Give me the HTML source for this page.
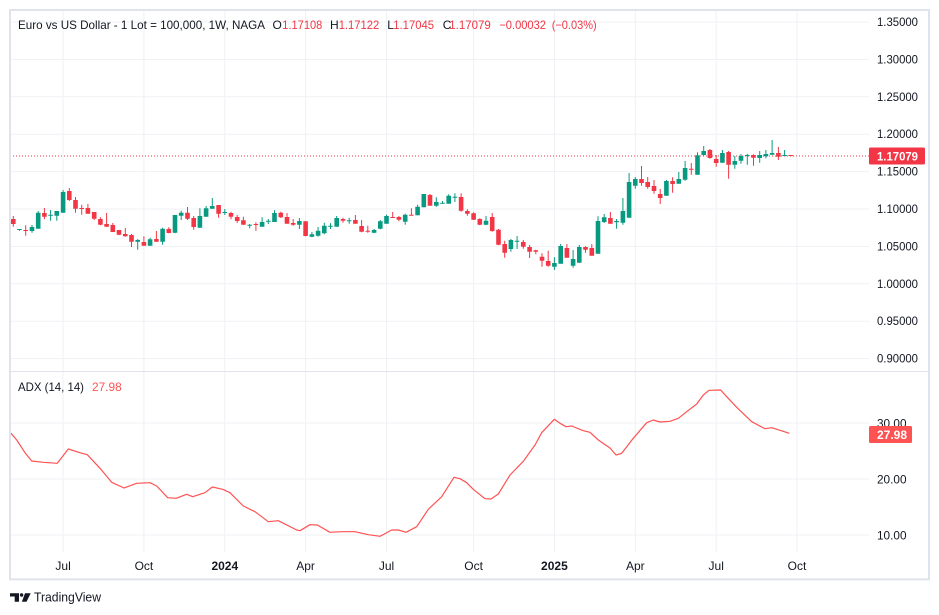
<!DOCTYPE html>
<html>
<head>
<meta charset="utf-8">
<style>
html,body{margin:0;padding:0;background:#fff;}
svg{display:block;}
text{font-family:"Liberation Sans",Arial,sans-serif;}
</style>
</head>
<body>
<svg width="939" height="615" viewBox="0 0 939 615" xmlns="http://www.w3.org/2000/svg">
<rect x="0" y="0" width="939" height="615" fill="#ffffff"/>
<defs>
<clipPath id="pane"><rect x="10" y="10" width="859" height="361"/></clipPath>
<clipPath id="adx"><rect x="10" y="372" width="859" height="180"/></clipPath>
</defs>

<!-- grid -->
<g stroke="#EFF1F5" stroke-width="1" fill="none">
<path d="M10 22H869M10 59.4H869M10 96.8H869M10 134.2H869M10 171.6H869M10 209H869M10 246.4H869M10 283.8H869M10 321.2H869M10 358.6H869"/>
<path d="M10 423H869M10 479H869M10 535H869"/>
<path d="M63.1 11V552M143.9 11V552M224.8 11V552M305.6 11V552M386.5 11V552M473.6 11V552M554.4 11V552M635.3 11V552M716.2 11V552M797 11V552"/>
</g>

<!-- pane separator -->
<path d="M10 371.5H929" stroke="#E0E3EB" stroke-width="1"/>

<!-- header legend -->
<g font-size="12" fill="#131722">
<text x="18" y="29" textLength="247" lengthAdjust="spacingAndGlyphs">Euro vs US Dollar - 1 Lot = 100,000, 1W, NAGA</text>
<text x="272.5" y="29">O</text>
<text x="282.3" y="29" fill="#F23645" textLength="40" lengthAdjust="spacingAndGlyphs">1.17108</text>
<text x="330" y="29">H</text>
<text x="338.7" y="29" fill="#F23645" textLength="40.6" lengthAdjust="spacingAndGlyphs">1.17122</text>
<text x="387.3" y="29">L</text>
<text x="393.3" y="29" fill="#F23645" textLength="40.7" lengthAdjust="spacingAndGlyphs">1.17045</text>
<text x="442.7" y="29">C</text>
<text x="449.3" y="29" fill="#F23645" textLength="41.4" lengthAdjust="spacingAndGlyphs">1.17079</text>
<text x="499.3" y="29" fill="#F23645" textLength="46.7" lengthAdjust="spacingAndGlyphs">−0.00032</text>
<text x="551.7" y="29" fill="#F23645" textLength="45" lengthAdjust="spacingAndGlyphs">(−0.03%)</text>
</g>

<!-- current price dotted line -->
<path d="M10 156H869" stroke="#F23645" stroke-width="1" stroke-dasharray="1 2"/>

<g clip-path="url(#pane)">
<!-- green wicks -->
<path stroke="#089981" stroke-width="1" fill="none" d="M19.5 229V230.7M32 225V232.7M38.2 211V228.7M50.6 210V220.7M56.8 211V220.7M63.1 190V212.7M137.7 239V249.7M150.1 237.7V245.7M162.6 227.7V244.7M175 215V233.3M181.2 210.7V220M199.9 208.3V227.7M206.1 206V216.7M212.3 198V208.7M224.8 209V215M249.7 224V228.3M262.1 217.3V226.7M268.3 219V224M274.5 210.3V222M299.4 218V229M311.9 232V237.3M318.1 227V236.7M324.3 222.7V234.3M330.5 223.3V229M336.7 216V226.7M349.2 217.7V223.7M374.1 229V233.3M380.3 220V229.3M386.5 214.7V223.7M405.2 213.7V224.7M417.6 204.7V215.3M423.8 194V207.3M436.3 197.3V206.7M442.5 201V203.7M448.7 194.3V203.7M454.9 193.3V202M486 216V225.3M510.9 239V251.7M517.1 236V249M554.4 257.3V270M560.7 244V263.7M573.1 250V267.7M579.3 245V262.7M598 216.3V253.7M604.2 214V223M616.6 219V228.7M622.9 198V224.7M629.1 173V217.7M635.3 177V188.7M666.4 180V195.7M678.8 172V183.7M685.1 161V180.7M697.5 152.3V174.7M703.7 146V155.7M722.4 150V162.7M734.8 156V168.7M741 154V163.7M747.3 153.7V164.7M759.7 151V162.7M765.9 150V158.3M772.1 140V154.7M784.6 150V155.7"/>
<!-- red wicks -->
<path stroke="#F23645" stroke-width="1" fill="none" d="M13.3 216V226.7M25.7 225.3V235.7M44.4 208V219.3M69.3 188V201M75.5 197V212.7M81.7 204.7V214.7M87.9 204V213.7M94.2 212V220M100.4 217.3V225.3M106.6 213V226.7M112.8 223V232M119 230V235.3M125.3 228V236.7M131.5 234V247M143.9 236.3V245.7M156.4 231V241.7M168.8 227.3V233.3M187.5 207V220M193.7 216V229.7M218.6 205V217.7M231 211.7V219.3M237.2 215V223M243.4 216.7V224.7M255.9 222.3V230.7M280.8 211.7V218M287 213V223.7M293.2 219V225.7M305.6 221.3V236.3M343 217.7V222.7M355.4 215V223.7M361.6 220V232.3M367.8 225.7V232.7M392.7 212V217.7M398.9 216V221.3M411.4 208.3V215.3M430 194V205.7M461.1 193.3V211.7M467.4 209.3V215.7M473.6 212.3V220M479.8 218.3V225.3M492.2 213V231.7M498.5 229V245.3M504.7 240.7V257.7M523.3 240V248.7M529.6 245V258M535.8 249.7V254.3M542 253.3V266.7M548.2 250.7V266.7M566.9 244V257.7M585.5 246.3V252.7M591.8 244V255.7M610.4 212V223.7M641.5 166V185.7M647.7 177V188.7M654 180V193.7M660.2 189V204M672.6 177.3V192.7M691.3 163V174.7M709.9 149V158.7M716.2 155V166.7M728.6 151V178.7M753.5 154.3V165.7M778.4 147V160M790.8 155V156"/>
<!-- green bodies -->
<path fill="#089981" d="M17.2 229h4.6V230h-4.6zM29.7 227h4.6V231h-4.6zM35.9 212.7h4.6V228.7h-4.6zM48.3 214.7h4.6V215.7h-4.6zM54.5 211h4.6V215.7h-4.6zM60.8 192h4.6V212.7h-4.6zM135.4 240h4.6V241.7h-4.6zM147.8 239.3h4.6V245.7h-4.6zM160.3 228.7h4.6V241.7h-4.6zM172.7 215h4.6V232.7h-4.6zM178.9 212.7h4.6V215.7h-4.6zM197.6 216h4.6V227.7h-4.6zM203.8 208.3h4.6V216.7h-4.6zM210 206h4.6V208.7h-4.6zM222.5 212h4.6V213h-4.6zM247.4 224.7h4.6V225.7h-4.6zM259.8 222h4.6V226.7h-4.6zM266 220.7h4.6V221.7h-4.6zM272.2 213h4.6V222h-4.6zM297.1 221h4.6V224.7h-4.6zM309.6 234.3h4.6V236.7h-4.6zM315.8 230.7h4.6V235.7h-4.6zM322 225.7h4.6V233.3h-4.6zM328.2 225.7h4.6V226.7h-4.6zM334.4 218h4.6V226.7h-4.6zM346.9 220.3h4.6V221.3h-4.6zM371.8 230h4.6V232.7h-4.6zM378 221.3h4.6V228.7h-4.6zM384.2 216h4.6V223.7h-4.6zM402.9 214.7h4.6V221.7h-4.6zM415.3 206.7h4.6V215.3h-4.6zM421.5 194h4.6V207.3h-4.6zM434 202h4.6V205.7h-4.6zM440.2 202.7h4.6V203.7h-4.6zM446.4 195.7h4.6V203.7h-4.6zM452.6 196.7h4.6V197.7h-4.6zM483.7 220.7h4.6V224.7h-4.6zM508.6 240h4.6V249h-4.6zM514.8 240.7h4.6V241.7h-4.6zM552.1 263h4.6V266.7h-4.6zM558.4 246h4.6V263.7h-4.6zM570.8 259h4.6V265.7h-4.6zM577 247h4.6V262.7h-4.6zM595.7 221h4.6V253.7h-4.6zM601.9 217.3h4.6V222h-4.6zM614.3 221h4.6V222.3h-4.6zM620.6 211h4.6V222.7h-4.6zM626.8 182h4.6V217.7h-4.6zM633 179h4.6V185.7h-4.6zM664.1 181h4.6V195.7h-4.6zM676.5 179h4.6V183.7h-4.6zM682.8 168h4.6V179.7h-4.6zM695.2 155.3h4.6V174.7h-4.6zM701.4 151h4.6V155h-4.6zM720.1 153h4.6V162.7h-4.6zM732.5 161h4.6V164.7h-4.6zM738.7 156h4.6V160.7h-4.6zM745 155h4.6V156h-4.6zM757.4 155h4.6V158h-4.6zM763.6 154h4.6V156.3h-4.6zM769.8 153h4.6V154.7h-4.6zM782.3 155h4.6V156h-4.6z"/>
<!-- red bodies -->
<path fill="#F23645" d="M11 219h4.6V224h-4.6zM23.4 230h4.6V231h-4.6zM42.1 213h4.6V216.7h-4.6zM67 191h4.6V200h-4.6zM73.2 200h4.6V208.7h-4.6zM79.4 208h4.6V209h-4.6zM85.6 208h4.6V213.7h-4.6zM91.9 212h4.6V218.7h-4.6zM98.1 219h4.6V224.7h-4.6zM104.3 224h4.6V226.7h-4.6zM110.5 225h4.6V232h-4.6zM116.7 230h4.6V234.7h-4.6zM123 234h4.6V236.3h-4.6zM129.2 235h4.6V241.7h-4.6zM141.6 242h4.6V245.7h-4.6zM154.1 239h4.6V241.7h-4.6zM166.5 229h4.6V233h-4.6zM185.2 212.7h4.6V218.7h-4.6zM191.4 218h4.6V227h-4.6zM216.3 205h4.6V213.7h-4.6zM228.7 213h4.6V216.7h-4.6zM234.9 217h4.6V221h-4.6zM241.1 220.3h4.6V224.7h-4.6zM253.6 224h4.6V225h-4.6zM278.5 212.7h4.6V217.3h-4.6zM284.7 217h4.6V223.7h-4.6zM290.9 223h4.6V224.7h-4.6zM303.3 221.3h4.6V236h-4.6zM340.7 219h4.6V220.7h-4.6zM353.1 220h4.6V223.7h-4.6zM359.3 226h4.6V231.7h-4.6zM365.5 230.7h4.6V231.7h-4.6zM390.4 217h4.6V218h-4.6zM396.6 217h4.6V219.7h-4.6zM409.1 214.7h4.6V215.7h-4.6zM427.7 195h4.6V205.7h-4.6zM458.8 197h4.6V210.7h-4.6zM465.1 211h4.6V213.7h-4.6zM471.3 213.3h4.6V219.7h-4.6zM477.5 219h4.6V224.7h-4.6zM489.9 217h4.6V231h-4.6zM496.2 229.7h4.6V244.7h-4.6zM502.4 244h4.6V252.7h-4.6zM521 242h4.6V246.7h-4.6zM527.3 247h4.6V251.7h-4.6zM533.5 250.3h4.6V251.7h-4.6zM539.7 256.7h4.6V260.7h-4.6zM545.9 261h4.6V265.7h-4.6zM564.6 248h4.6V257.7h-4.6zM583.2 247h4.6V249.7h-4.6zM589.5 248h4.6V255.7h-4.6zM608.1 218h4.6V223.7h-4.6zM639.2 179h4.6V183h-4.6zM645.4 182h4.6V187h-4.6zM651.7 186h4.6V191h-4.6zM657.9 194h4.6V198h-4.6zM670.3 181h4.6V184h-4.6zM689 168.7h4.6V169.7h-4.6zM707.6 150h4.6V158h-4.6zM713.9 159h4.6V163h-4.6zM726.3 152h4.6V164.7h-4.6zM751.2 155h4.6V157.7h-4.6zM776.1 153h4.6V156.7h-4.6zM788.5 155h4.6V156h-4.6z"/>
</g>

<!-- price axis labels -->
<g font-size="12" fill="#131722" text-anchor="end">
<text x="918" y="26" textLength="41" lengthAdjust="spacingAndGlyphs">1.35000</text>
<text x="918" y="63.4" textLength="41" lengthAdjust="spacingAndGlyphs">1.30000</text>
<text x="918" y="100.8" textLength="41" lengthAdjust="spacingAndGlyphs">1.25000</text>
<text x="918" y="138.2" textLength="41" lengthAdjust="spacingAndGlyphs">1.20000</text>
<text x="918" y="175.6" textLength="41" lengthAdjust="spacingAndGlyphs">1.15000</text>
<text x="918" y="213" textLength="41" lengthAdjust="spacingAndGlyphs">1.10000</text>
<text x="918" y="250.4" textLength="41" lengthAdjust="spacingAndGlyphs">1.05000</text>
<text x="918" y="287.8" textLength="41" lengthAdjust="spacingAndGlyphs">1.00000</text>
<text x="918" y="325.2" textLength="41" lengthAdjust="spacingAndGlyphs">0.95000</text>
<text x="918" y="362.6" textLength="41" lengthAdjust="spacingAndGlyphs">0.90000</text>
</g>
<!-- current price label -->
<rect x="869" y="147.5" width="56" height="17" rx="1.5" fill="#F23645"/>
<text x="877" y="160.3" font-size="12" font-weight="bold" fill="#ffffff" textLength="41" lengthAdjust="spacingAndGlyphs">1.17079</text>

<!-- ADX legend -->
<text x="18" y="391" font-size="12" fill="#131722" textLength="66" lengthAdjust="spacingAndGlyphs">ADX (14, 14)</text>
<text x="92" y="391" font-size="12" fill="#FF5252" textLength="29.7" lengthAdjust="spacingAndGlyphs">27.98</text>

<!-- ADX line -->
<g clip-path="url(#adx)">
<polyline fill="none" stroke="#FF5252" stroke-width="1.2" stroke-linejoin="round" points="9,431.5 11,433.3 16.7,440 25,452.7 31.7,461 43.3,462.3 57.3,463.3 68.3,449 80,452.7 87.3,454.7 100,468.3 111.7,482.3 124,488 136.7,483.3 150,482.7 156.7,486 167.7,497.7 176,498.3 186.7,494.3 192.7,496.7 205,492.7 212.3,487 222.7,489.3 230,492.7 243.3,506 255,511.7 268.3,521.7 278.3,520.7 296.7,530 300,530.7 310,524.7 317.3,525 330,532.3 341.7,531.7 355,531.7 368.3,534.7 380,536.3 391.7,530 398.3,530 406,532.3 416.7,526.7 428.3,509.3 441.7,496.7 454,477.3 460,478.7 466.7,482.7 473.3,489.3 485,498.7 491,499 498.3,494 510,475 523.3,461.3 535,445 541.7,432.7 554.3,419.3 560,423.3 566,426.7 571.7,426 583.3,430.7 590,432.3 598.3,440 610,448 616,455 621.7,453.3 633.3,438.3 646.7,422.7 653.3,420 660,422 670,421.3 678.3,418.3 686.7,411.7 696.7,404 703.3,395 709,390.3 720.7,390 726.7,396.7 736.7,407.3 751.7,421.7 765,428.7 771.7,427.7 780,430.3 789.3,433.3"/>
</g>

<!-- ADX axis labels -->
<g font-size="12" fill="#131722">
<text x="877" y="427.3" textLength="29.5" lengthAdjust="spacingAndGlyphs">30.00</text>
<text x="877" y="483.3" textLength="29.5" lengthAdjust="spacingAndGlyphs">20.00</text>
<text x="877" y="539.3" textLength="29.5" lengthAdjust="spacingAndGlyphs">10.00</text>
</g>
<rect x="869" y="426" width="43" height="17" rx="1.5" fill="#FF5252"/>
<text x="877" y="438.8" font-size="12" font-weight="bold" fill="#ffffff" textLength="30" lengthAdjust="spacingAndGlyphs">27.98</text>

<!-- time axis -->
<g font-size="12" fill="#131722" text-anchor="middle">
<text x="63.1" y="570">Jul</text>
<text x="143.9" y="570">Oct</text>
<text x="224.8" y="570" font-weight="bold">2024</text>
<text x="305.6" y="570">Apr</text>
<text x="386.5" y="570">Jul</text>
<text x="473.6" y="570">Oct</text>
<text x="554.4" y="570" font-weight="bold">2025</text>
<text x="635.3" y="570">Apr</text>
<text x="716.2" y="570">Jul</text>
<text x="797" y="570">Oct</text>
</g>

<!-- frame -->
<rect x="10" y="10" width="919" height="569.3" fill="none" stroke="#E0E3EB" stroke-width="2"/>

<!-- TradingView logo -->
<g fill="#131722">
<path d="M10 593.3h9v8.4h-4.3v-5.2h-4.7z"/>
<circle cx="21.6" cy="595" r="1.7"/>
<path d="M25 593.3h5.7l-4.2 8.4h-4.6z"/>
<text x="34" y="601.5" font-size="13" textLength="67" lengthAdjust="spacingAndGlyphs">TradingView</text>
</g>
</svg>
</body>
</html>
